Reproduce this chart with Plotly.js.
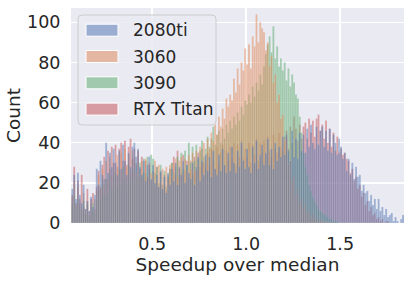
<!DOCTYPE html>
<html>
<head>
<meta charset="utf-8">
<script src="https://cdn.plot.ly/plotly-3.0.1.min.js"></script>
<style>
html,body{margin:0;padding:0;background:#fff;}
#chart{width:412px;height:281px;}
</style>
</head>
<body>
<div id="chart"></div>
<script>
// Histogram bins: left edge of first bin and bin width (speedup units)
const binStart = 0.07;
const binWidth = 0.01;

const seriesNames = ["2080ti", "3060", "3090", "RTX Titan"];
const seriesColors = ["#4C72B0", "#DD8452", "#55A868", "#C44E52"];

// counts per bin, bins from 0.07 to 1.84
const counts2080ti = [
  17, 24, 12,
  25, 14, 10, 19, 7, 11, 6, 13, 8, 14,
  27, 19, 31, 24, 22, 40, 25, 35, 28, 37,
  30, 24, 36, 27, 39, 31, 24, 35, 28, 38,
  40, 33, 37, 28, 24, 31, 21, 29, 33, 22,
  29, 20, 24, 18, 26, 17, 23, 15, 25, 19,
  27, 21, 30, 19, 28, 24, 31, 20, 29, 25,
  22, 30, 19, 28, 33, 21, 31, 24, 34, 26,
  33, 23, 36, 27, 24, 34, 26, 37, 29, 25,
  35, 26, 38, 30, 25, 36, 28, 40, 31, 27,
  37, 28, 25, 38, 30, 41, 27, 34, 39, 29,
  35, 42, 29, 37, 27, 40, 31, 38, 33, 43,
  34, 44, 36, 31, 46, 33, 42, 32, 45, 36,
  44, 35, 47, 38, 49, 40, 37, 48, 39, 46,
  48, 38, 46, 36, 47, 35, 44, 40, 34, 42,
  38, 32, 35, 26, 32, 24, 30, 22, 28, 23,
  24, 16, 19, 15, 16, 11, 14, 9, 12, 7,
  12, 6, 8, 4, 7, 3, 4, 5, 1, 3,
  1, 0, 2, 4
];

const counts3060 = [
  13, 21, 9,
  18, 10, 7, 15, 5, 11, 4, 10, 6, 12,
  16, 24, 18, 27, 19, 31, 22, 33, 24, 30,
  25, 34, 26, 35, 27, 37, 28, 34, 25, 36,
  33, 25, 34, 24, 31, 22, 32, 23, 30, 25,
  24, 31, 21, 29, 20, 27, 19, 28, 22, 29,
  23, 30, 32, 23, 31, 33, 24, 32, 26, 34,
  27, 35, 26, 36, 29, 38, 30, 40, 32, 42,
  37, 45, 41, 49, 44, 53, 48, 57, 52, 62,
  58, 64, 61, 72, 65, 77, 69, 80, 76, 87,
  79, 89, 77, 93, 88, 104, 90, 100, 97, 95,
  86, 90, 78, 83, 70, 74, 60, 64, 52, 54,
  41, 43, 29, 31, 21, 23, 14, 17, 10, 12,
  7, 9, 5, 6, 3, 5, 2, 3, 1, 2,
  1, 1, 0, 1, 0, 0, 1, 0, 0, 0,
  0, 0, 0, 0, 0, 0, 0, 0, 0, 0,
  0, 0, 0, 0, 0, 0, 0, 0, 0, 0,
  0, 0, 0, 0, 0, 0, 0, 0, 0, 0,
  0, 0, 0, 0
];

const counts3090 = [
  9, 14, 7,
  12, 8, 5, 11, 4, 9, 3, 7, 10, 5,
  11, 16, 12, 20, 14, 22, 15, 24, 17, 23,
  25, 18, 27, 20, 28, 22, 19, 29, 21, 27,
  22, 29, 23, 30, 24, 32, 25, 33, 27, 34,
  32, 25, 28, 20, 29, 19, 26, 18, 24, 27,
  30, 25, 28, 33, 24, 35, 27, 36, 29, 40,
  30, 38, 31, 39, 32, 36, 41, 33, 37, 43,
  38, 42, 48, 39, 44, 46, 40, 47, 42, 49,
  45, 51, 47, 53, 49, 55, 51, 58, 54, 61,
  59, 64, 60, 68, 63, 70, 66, 74, 69, 78,
  84, 89, 93, 85, 98, 82, 88, 78, 82, 76,
  80, 71, 77, 68, 74, 70, 64, 62, 53, 45,
  35, 28, 24, 19, 16, 13, 11, 9, 7, 6,
  5, 4, 4, 3, 2, 2, 1, 1, 1, 0,
  0, 0, 0, 0, 0, 0, 0, 0, 0, 0,
  0, 0, 0, 0, 0, 0, 0, 0, 0, 0,
  0, 0, 0, 0, 0, 0, 0, 0, 0, 0,
  0, 0, 0, 0
];

const countsRTXTitan = [
  14, 28, 10,
  21, 12, 24, 8, 7, 17, 6, 12, 15, 7,
  18, 26, 17, 29, 33, 22, 36, 27, 38, 30,
  39, 28, 37, 40, 31, 41, 29, 38, 42, 32,
  37, 30, 36, 27, 33, 25, 31, 23, 29, 21,
  26, 19, 28, 18, 25, 17, 24, 16, 23, 27,
  30, 33, 24, 36, 27, 25, 34, 26, 31, 23,
  31, 24, 33, 26, 35, 28, 37, 30, 27, 35,
  29, 37, 31, 27, 38, 30, 35, 39, 28, 36,
  31, 38, 32, 40, 29, 39, 33, 41, 32, 37,
  33, 40, 30, 39, 34, 42, 31, 40, 35, 41,
  34, 43, 36, 33, 44, 37, 35, 45, 38, 36,
  43, 46, 37, 48, 40, 53, 47, 41, 49, 42,
  48, 50, 42, 52, 45, 51, 43, 52, 54, 46,
  49, 42, 51, 40, 47, 38, 45, 36, 43, 35,
  37, 34, 35, 32, 31, 25, 27, 21, 23, 17,
  19, 13, 15, 9, 11, 6, 8, 4, 5, 2,
  3, 1, 2, 0, 1, 1, 0, 0, 0, 0,
  0, 0, 0, 0
];

const allCounts = [counts2080ti, counts3060, counts3090, countsRTXTitan];

const xTickVals = [0.5, 1.0, 1.5];
const xTickText = ["0.5", "1.0", "1.5"];
const yTickVals = [0, 20, 40, 60, 80, 100];
const yTickText = ["0", "20", "40", "60", "80", "100"];

function hexToRgba(hex, a) {
  const n = parseInt(hex.slice(1), 16);
  return "rgba(" + ((n >> 16) & 255) + "," + ((n >> 8) & 255) + "," + (n & 255) + "," + a + ")";
}

const traces = [];
// seaborn draws hue levels in reverse order (last level at the bottom)
for (let s = seriesNames.length - 1; s >= 0; s--) {
  const c = allCounts[s];
  const xs = c.map((_, i) => binStart + binWidth * (i + 0.5));
  traces.push({
    type: "bar",
    name: seriesNames[s],
    x: xs,
    y: c,
    width: binWidth,
    marker: { color: hexToRgba(seriesColors[s], 0.5), line: { width: 0.3, color: "rgba(255,255,255,0.35)" } },
    showlegend: false,
    hoverinfo: "skip"
  });
}

// plot-area geometry in pixels
const W = 412, H = 281;
const M = { l: 71, r: 8, t: 8, b: 58 };
const PW = W - M.l - M.r, PH = H - M.t - M.b;
const px = v => (v - M.l) / PW;
const py = v => 1 - (v - M.t) / PH;

// manual legend (matplotlib style)
const shapes = [];
const annotations = [];
const lgX0 = 78, lgX1 = 216, lgY0 = 15, lgY1 = 125, rad = 4;
const pathD =
  "M" + px(lgX0 + rad) + "," + py(lgY0) +
  " L" + px(lgX1 - rad) + "," + py(lgY0) +
  " Q" + px(lgX1) + "," + py(lgY0) + " " + px(lgX1) + "," + py(lgY0 + rad) +
  " L" + px(lgX1) + "," + py(lgY1 - rad) +
  " Q" + px(lgX1) + "," + py(lgY1) + " " + px(lgX1 - rad) + "," + py(lgY1) +
  " L" + px(lgX0 + rad) + "," + py(lgY1) +
  " Q" + px(lgX0) + "," + py(lgY1) + " " + px(lgX0) + "," + py(lgY1 - rad) +
  " L" + px(lgX0) + "," + py(lgY0 + rad) +
  " Q" + px(lgX0) + "," + py(lgY0) + " " + px(lgX0 + rad) + "," + py(lgY0) + " Z";
shapes.push({
  type: "path", xref: "paper", yref: "paper", path: pathD,
  fillcolor: "rgba(234,234,242,0.8)", line: { color: "#cccccc", width: 1 }, layer: "above"
});
const rowStep = 26.3, row0 = 30.2;
seriesNames.forEach((name, i) => {
  const cy = row0 + i * rowStep;
  shapes.push({
    type: "rect", xref: "paper", yref: "paper",
    x0: px(86), x1: px(118), y0: py(cy - 6), y1: py(cy + 6),
    fillcolor: hexToRgba(seriesColors[i], 0.5), line: { color: "#ffffff", width: 1 }, layer: "above"
  });
  annotations.push({
    xref: "paper", yref: "paper", x: px(130.5), y: py(cy),
    xanchor: "left", yanchor: "middle", showarrow: false,
    text: name, font: { family: "DejaVu Sans", size: 17, color: "#262626" }
  });
});

const layout = {
  width: W, height: H,
  margin: M,
  paper_bgcolor: "#ffffff",
  plot_bgcolor: "#EAEAF2",
  barmode: "overlay",
  bargap: 0,
  showlegend: false,
  font: { family: "DejaVu Sans", color: "#262626" },
  xaxis: {
    range: [0.068, 1.84],
    tickvals: xTickVals, ticktext: xTickText,
    showgrid: true, gridcolor: "#ffffff", gridwidth: 1.5,
    zeroline: false, showline: false,
    ticks: "outside", ticklen: 5, tickcolor: "rgba(0,0,0,0)",
    tickfont: { family: "DejaVu Sans", size: 17.5, color: "#262626" },
    title: { text: "Speedup over median", font: { family: "DejaVu Sans", size: 18.5, color: "#262626" }, standoff: 0 },
    automargin: false
  },
  yaxis: {
    range: [0, 107.1],
    tickvals: yTickVals, ticktext: yTickText,
    showgrid: true, gridcolor: "#ffffff", gridwidth: 1.5,
    zeroline: false, showline: false,
    ticks: "outside", ticklen: 6, tickcolor: "rgba(0,0,0,0)",
    tickfont: { family: "DejaVu Sans", size: 17.5, color: "#262626" },
    title: { text: "Count", font: { family: "DejaVu Sans", size: 18.5, color: "#262626" }, standoff: 1 },
    automargin: false
  },
  shapes: shapes,
  annotations: annotations
};

Plotly.newPlot("chart", traces, layout, { staticPlot: true, displayModeBar: false });
</script>
</body>
</html>
